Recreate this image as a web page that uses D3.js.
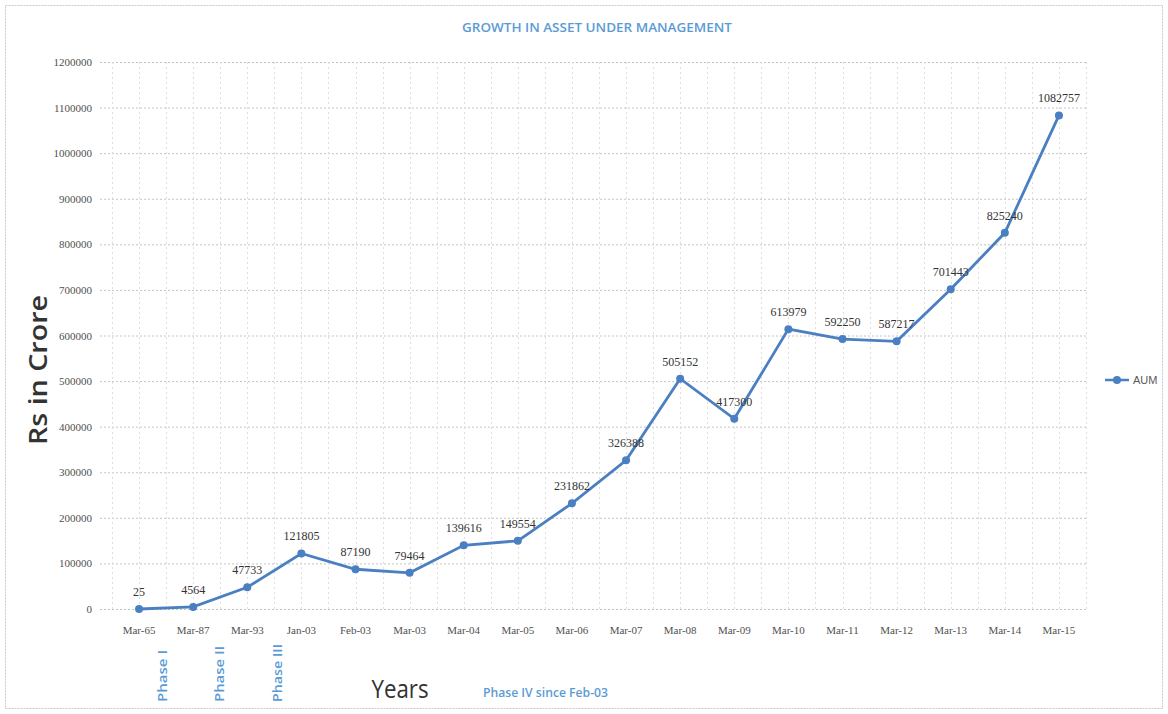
<!DOCTYPE html>
<html><head><meta charset="utf-8">
<script src="https://cdn.jsdelivr.net/npm/d3@7"></script>
<style>body{margin:0;background:#fff}svg{display:block}</style>
</head><body><svg id="c" width="1168" height="714"></svg>
<script>
const categories = ["Mar-65","Mar-87","Mar-93","Jan-03","Feb-03","Mar-03","Mar-04","Mar-05","Mar-06","Mar-07","Mar-08","Mar-09","Mar-10","Mar-11","Mar-12","Mar-13","Mar-14","Mar-15"];
const aum = [25,4564,47733,121805,87190,79464,139616,149554,231862,326388,505152,417300,613979,592250,587217,701443,825240,1082757];
const yTicks = [0,100000,200000,300000,400000,500000,600000,700000,800000,900000,1000000,1100000,1200000];
const phaseLabels = ["Phase I","Phase II","Phase III"];

const svg = d3.select("#c");
const blue = "#4a7fc1";
const titleBlue = "#5b9bd5";
const W = 1168, H = 714;
const x = d3.scaleBand().domain(categories).range([112, 1086]);
const y = d3.scaleLinear().domain([0, 1200000]).range([609, 62]);
const cx = d => x(d) + x.bandwidth()/2;

// outer border
svg.append("rect").attr("x",5.5).attr("y",5.5).attr("width",W-11).attr("height",H-11)
  .attr("fill","none").attr("stroke","#c8c8c8").attr("stroke-dasharray","2,1");

// horizontal gridlines
svg.append("g").selectAll("line").data(yTicks).join("line")
  .attr("x1",100).attr("x2",1087).attr("y1",d=>y(d)+0.5).attr("y2",d=>y(d)+0.5)
  .attr("stroke","#c4c4c4").attr("stroke-dasharray","2,2");
// vertical gridlines at half steps
const halfPos = [];
categories.forEach(c => { halfPos.push(x(c)); halfPos.push(cx(c)); });
halfPos.push(x(categories[categories.length-1]) + x.bandwidth());
svg.append("g").selectAll("line").data(halfPos).join("line")
  .attr("x1",d=>Math.round(d)+0.5).attr("x2",d=>Math.round(d)+0.5).attr("y1",y(1200000)).attr("y2",y(0))
  .attr("stroke","#dedede").attr("stroke-dasharray","2,3");

// y axis labels
const yAxis = d3.axisLeft(y).tickValues(yTicks).tickSize(0).tickPadding(0).tickFormat(d3.format("d"));
const gy = svg.append("g").attr("transform","translate(92,0)").call(yAxis);
gy.select(".domain").remove();
gy.selectAll("text").attr("font-family","Liberation Serif, serif").attr("font-size",11).attr("fill","#505050");

// x axis labels
const xAxis = d3.axisBottom(x).tickSize(0).tickPadding(0);
const gx = svg.append("g").attr("transform","translate(0,626)").call(xAxis);
gx.select(".domain").remove();
gx.selectAll("text").attr("font-family","Liberation Serif, serif").attr("font-size",11).attr("fill","#505050");

// line
const line = d3.line().x((d,i)=>cx(categories[i])).y(d=>y(d));
svg.append("path").datum(aum).attr("d",line).attr("fill","none").attr("stroke",blue).attr("stroke-width",2.8);
svg.append("g").selectAll("circle").data(aum).join("circle")
  .attr("cx",(d,i)=>cx(categories[i])).attr("cy",d=>y(d)).attr("r",4).attr("fill",blue);
// data labels
svg.append("g").selectAll("text").data(aum).join("text")
  .attr("x",(d,i)=>cx(categories[i])).attr("y",d=>y(d)-13)
  .attr("text-anchor","middle").attr("font-family","Liberation Serif, serif").attr("font-size",12)
  .attr("fill","#333").text(d=>d);

// title
svg.append("text").attr("x",597).attr("y",32).attr("text-anchor","middle")
  .attr("font-family","Open Sans, sans-serif").attr("font-weight","600").attr("font-size",13)
  .attr("fill",titleBlue).attr("textLength",270).attr("lengthAdjust","spacingAndGlyphs")
  .text("GROWTH IN ASSET UNDER MANAGEMENT");

// y title
svg.append("text").attr("transform","translate(47,370) rotate(-90)").attr("text-anchor","middle")
  .attr("font-family","Open Sans, sans-serif").attr("font-weight","600").attr("font-size",25).attr("fill","#333")
  .attr("textLength",150).attr("lengthAdjust","spacingAndGlyphs")
  .text("Rs in Crore");

// x title
svg.append("text").attr("x",400).attr("y",698).attr("text-anchor","middle")
  .attr("font-family","Open Sans, sans-serif").attr("font-size",25).attr("fill","#333")
  .attr("textLength",57).attr("lengthAdjust","spacingAndGlyphs").text("Years");

// phase labels
const phaseX = [167, 224, 282];
const phaseLen = [52, 56, 58];
svg.append("g").selectAll("text").data(phaseLabels).join("text")
  .attr("transform",(d,i)=>`translate(${phaseX[i]},702) rotate(-90)`)
  .attr("font-family","Open Sans, sans-serif").attr("font-weight","600").attr("font-size",13)
  .attr("fill",titleBlue).attr("textLength",(d,i)=>phaseLen[i]).attr("lengthAdjust","spacingAndGlyphs")
  .text(d=>d);
svg.append("text").attr("x",483).attr("y",697)
  .attr("font-family","Open Sans, sans-serif").attr("font-weight","600").attr("font-size",12.5)
  .attr("fill",titleBlue).attr("textLength",125).attr("lengthAdjust","spacingAndGlyphs")
  .text("Phase IV since Feb-03");

// legend
const lg = svg.append("g").attr("transform","translate(1105,380)");
lg.append("line").attr("x1",0).attr("x2",24).attr("stroke",blue).attr("stroke-width",2.5);
lg.append("circle").attr("cx",12).attr("r",4).attr("fill",blue);
lg.append("text").attr("x",28).attr("y",4).attr("font-family","Liberation Sans, sans-serif")
  .attr("font-size",11).attr("fill","#595959").text("AUM");
</script></body></html>
